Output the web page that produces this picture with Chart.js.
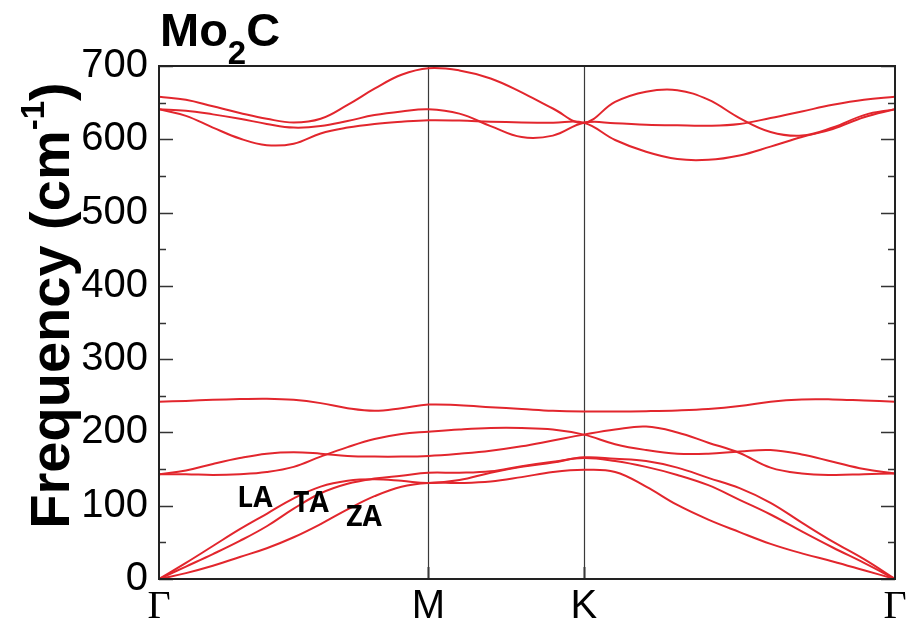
<!DOCTYPE html>
<html>
<head>
    <title>Mo2C phonon dispersion</title>
    <script src="https://cdn.jsdelivr.net/npm/chart.js"></script>
    <style>
        body { margin: 0; background: #fff; }
        #wrap { width: 906px; height: 625px; }
    </style>
</head>
<body>
    <div id="wrap"><canvas id="bandChart" width="906" height="625"></canvas></div>

    <script>
        // path coordinate along Γ-M-K-Γ (|ΓM| = 1)
        const kPath = [0, 0.1, 0.2, 0.3, 0.4, 0.5, 0.6, 0.7, 0.8, 0.9, 1.0,
            1.115, 1.231, 1.346, 1.462, 1.577,
            1.693, 1.808, 1.924, 2.039, 2.155, 2.270, 2.386, 2.501, 2.617, 2.732];
        const kTicks = [0, 1.0, 1.577, 2.732];
        const kLabels = ['Γ', 'M', 'K', 'Γ'];

        // frequencies in cm-1, one array per branch
        const bandZA = [0, 8, 18, 30, 42, 57, 75, 95, 113, 126, 131, 131, 133, 139, 146, 149, 146, 126, 101, 81, 64, 48, 35, 24, 12, 0];
        const bandTA = [0, 17, 34, 52, 72, 96, 117, 130, 137, 141, 145, 145, 147, 154, 160, 165, 161, 153, 142, 128, 108, 88, 65, 43, 22, 0];
        const bandLA = [0, 22, 45, 68, 89, 110, 126, 134, 136, 134, 131, 135, 145, 153, 159, 166, 164, 161, 152, 138, 124, 104, 77, 51, 27, 0];
        const band4 = [143, 148, 157, 165, 171, 173, 171, 168, 167, 167, 168, 171, 175, 181, 189, 197, 204, 208, 200, 186, 172, 152, 144, 142, 143, 144];
        const band5 = [143, 143, 142, 143, 146, 153, 167, 180, 191, 198, 201, 204, 206, 206, 204, 197, 184, 176, 171, 171, 174, 176, 170, 160, 150, 144];
        const band6 = [242, 243, 244.5, 245.5, 246, 244.5, 240, 233, 229.5, 233, 238, 237, 234.5, 232, 229.5, 228.5, 228.5, 229, 230, 232, 236, 242, 245, 245, 243.5, 242];
        const band7 = [641, 632, 616, 601, 592, 594, 608, 616, 621, 624, 626, 625.5, 624, 623, 622.5, 622.5, 599, 583, 573, 572, 578, 590, 603, 614, 630, 641];
        const band8 = [641, 639, 634, 628, 621, 616, 618, 625, 633, 638, 641, 635, 618, 603, 605, 622.5, 622, 620, 619, 618.5, 621, 629, 638, 647, 654, 658];
        const band9 = [658, 654, 645, 636, 628, 623, 628, 647, 669, 688, 697, 694, 683, 664, 642, 622.5, 651, 665, 667, 654, 629, 610, 605, 616, 633, 641];

        // acoustic mode labels, placed in data coordinates
        const modeNames = ['LA', 'TA', 'ZA'];
        const modeK = [0.356, 0.564, 0.761];
        const modeFreq = [109, 102, 83];

        const bands = [bandZA, bandTA, bandLA, band4, band5, band6, band7, band8, band9];
        const red = '#e2262d';

        const datasets = bands.map(function (b) {
            return {
                data: b.map(function (f, i) { return { x: kPath[i], y: f }; }),
                borderColor: red,
                borderWidth: 2,
                pointRadius: 0,
                tension: 0.4,
                fill: false
            };
        });

        const framePlugin = {
            id: 'frame',
            beforeDatasetsDraw(chart) {
                const ctx = chart.ctx;
                const a = chart.chartArea;
                const xs = chart.scales.x;
                const ys = chart.scales.y;
                ctx.save();
                // high-symmetry lines
                ctx.strokeStyle = '#3a3a3a';
                for (let i = 1; i < kTicks.length - 1; i++) {
                    const px = Math.round(xs.getPixelForValue(kTicks[i])) + 0.5;
                    ctx.lineWidth = 1.2;
                    ctx.beginPath();
                    ctx.moveTo(px, a.top);
                    ctx.lineTo(px, a.bottom);
                    ctx.stroke();
                    ctx.lineWidth = 2;
                    ctx.beginPath();
                    ctx.moveTo(px, a.bottom - 12);
                    ctx.lineTo(px, a.bottom);
                    ctx.stroke();
                }
                // inward y ticks, every 50
                ctx.strokeStyle = '#333';
                ctx.lineWidth = 1.5;
                for (let v = 0; v <= 700; v += 50) {
                    const py = Math.round(ys.getPixelForValue(v)) + 0.5;
                    const len = v % 100 === 0 ? 14 : 7;
                    ctx.beginPath();
                    ctx.moveTo(a.left, py);
                    ctx.lineTo(a.left + len, py);
                    ctx.moveTo(a.right, py);
                    ctx.lineTo(a.right - len, py);
                    ctx.stroke();
                }
                ctx.restore();
            },
            afterDatasetsDraw(chart) {
                const ctx = chart.ctx;
                const a = chart.chartArea;
                ctx.save();
                ctx.strokeStyle = '#222';
                ctx.lineWidth = 2;
                ctx.strokeRect(a.left, a.top, a.right - a.left, a.bottom - a.top);
                ctx.restore();
            },
            afterDraw(chart) {
                const ctx = chart.ctx;
                const a = chart.chartArea;
                const xs = chart.scales.x;
                const ys = chart.scales.y;
                ctx.save();
                ctx.fillStyle = '#000';
                ctx.textBaseline = 'alphabetic';

                // title Mo2C
                ctx.textAlign = 'left';
                let tx = 160;
                ctx.font = 'bold 47px "Liberation Sans", Arial, sans-serif';
                ctx.fillText('Mo', tx, 46);
                tx += ctx.measureText('Mo').width;
                ctx.font = 'bold 33px "Liberation Sans", Arial, sans-serif';
                ctx.fillText('2', tx, 64);
                tx += ctx.measureText('2').width;
                ctx.font = 'bold 47px "Liberation Sans", Arial, sans-serif';
                ctx.fillText('C', tx, 46);

                // y axis title with superscript
                const big = 'bold 56px "Liberation Sans", Arial, sans-serif';
                const small = 'bold 33px "Liberation Sans", Arial, sans-serif';
                ctx.font = big;
                const w1 = ctx.measureText('Frequency (cm').width;
                const w3 = ctx.measureText(')').width;
                ctx.font = small;
                const w2 = ctx.measureText('-1').width;
                const total = w1 + w2 + w3;
                ctx.translate(69, (a.top + a.bottom) / 2 - 17);
                ctx.rotate(-Math.PI / 2);
                let sx = -total / 2;
                ctx.font = big;
                ctx.fillText('Frequency (cm', sx, 0);
                sx += w1;
                ctx.font = small;
                ctx.fillText('-1', sx, -25);
                sx += w2;
                ctx.font = big;
                ctx.fillText(')', sx, 0);
                ctx.setTransform(1, 0, 0, 1, 0, 0);

                // acoustic branch labels
                ctx.font = 'bold 28px "Open Sans", "Liberation Sans", sans-serif';
                ctx.textAlign = 'center';
                ctx.textBaseline = 'middle';
                for (let i = 0; i < modeNames.length; i++) {
                    ctx.fillText(modeNames[i], xs.getPixelForValue(modeK[i]), ys.getPixelForValue(modeFreq[i]));
                }
                ctx.restore();
            }
        };

        const chartCtx = document.getElementById('bandChart').getContext('2d');
        const bandChart = new Chart(chartCtx, {
            type: 'line',
            data: { datasets: datasets },
            options: {
                responsive: false,
                animation: false,
                events: [],
                layout: { padding: { left: 0, right: 11, top: 66, bottom: 0 } },
                plugins: {
                    legend: { display: false },
                    title: { display: false },
                    tooltip: { enabled: false }
                },
                scales: {
                    x: {
                        type: 'linear',
                        min: 0,
                        max: kTicks[kTicks.length - 1],
                        grid: { display: false, drawTicks: false },
                        border: { display: false },
                        afterBuildTicks: function (scale) {
                            scale.ticks = kTicks.map(function (v) { return { value: v }; });
                        },
                        afterFit: function (scale) {
                            scale.height = 46;
                            scale.paddingLeft = 0;
                            scale.paddingRight = 0;
                        },
                        ticks: {
                            autoSkip: false,
                            maxRotation: 0,
                            padding: 4,
                            color: '#000',
                            callback: function (v, i) { return kLabels[i]; },
                            font: function (c) {
                                const serif = c.index === 0 || c.index === kTicks.length - 1;
                                return {
                                    family: serif ? '"Liberation Serif", "DejaVu Serif", serif' : '"Liberation Sans", Arial, sans-serif',
                                    size: 40
                                };
                            }
                        }
                    },
                    y: {
                        min: 0,
                        max: 700,
                        grid: { display: false, drawTicks: false },
                        border: { display: false },
                        afterFit: function (scale) { scale.width = 159; },
                        ticks: {
                            stepSize: 100,
                            padding: 11,
                            color: '#000',
                            font: { family: '"Liberation Sans", Arial, sans-serif', size: 40 }
                        }
                    }
                }
            },
            plugins: [framePlugin]
        });
    </script>
</body>
</html>
